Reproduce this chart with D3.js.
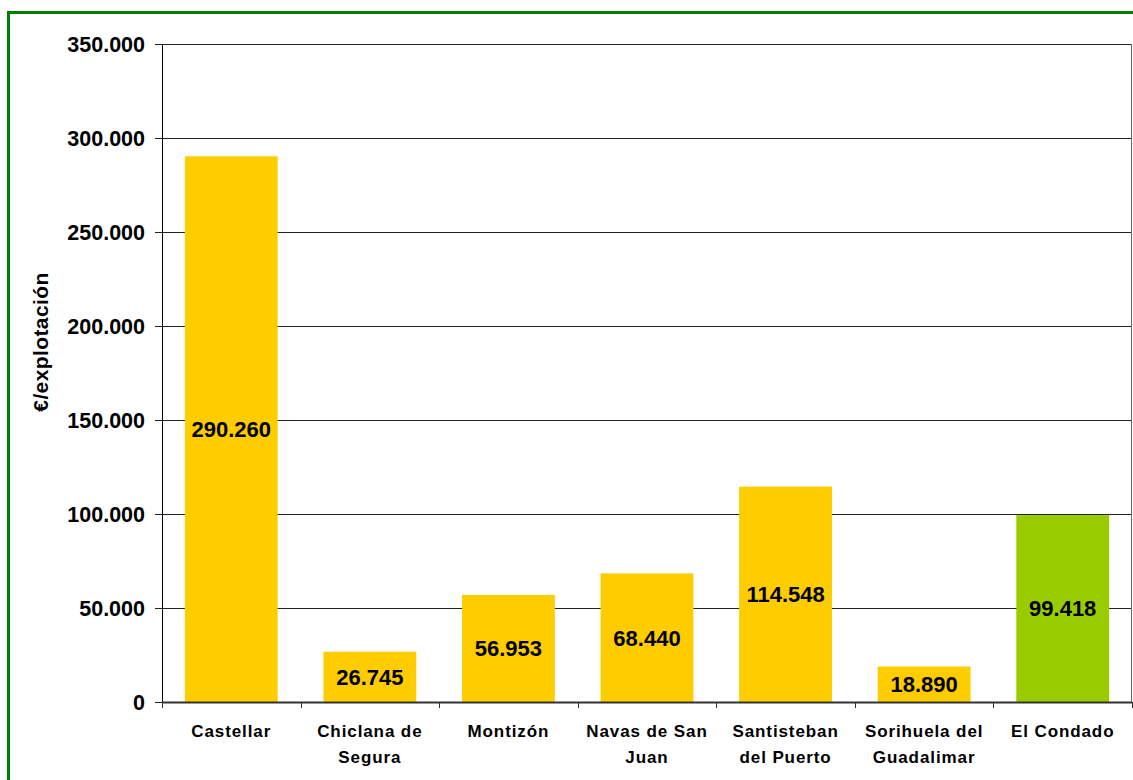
<!DOCTYPE html>
<html>
<head>
<meta charset="utf-8">
<script src="https://cdn.jsdelivr.net/npm/d3@7"></script>
<style>
body{margin:0;background:#fff;}
svg{display:block;}
text{font-family:Arial,"Liberation Sans",sans-serif;font-weight:bold;fill:#000;}
</style>
</head>
<body>
<svg width="1133" height="780"></svg>
<script>
var municipios = [["Castellar"],["Chiclana de","Segura"],["Montizón"],["Navas de San","Juan"],["Santisteban","del Puerto"],["Sorihuela del","Guadalimar"],["El Condado"]];
var valores = [290260, 26745, 56953, 68440, 114548, 18890, 99418];
var colores = ["#FFCC00","#FFCC00","#FFCC00","#FFCC00","#FFCC00","#FFCC00","#99CC00"];
var ticksY = [0, 50000, 100000, 150000, 200000, 250000, 300000, 350000];

var svg = d3.select('svg');
var pLeft = 162, pRight = 1132, pTop = 44, pBottom = 702;

var fmt = function(v){ return d3.format(",")(v).replace(/,/g,'.'); };

// marco verde
svg.append('rect').attr('x',8.5).attr('y',12.5).attr('width',1140).attr('height',800)
   .attr('fill','none').attr('stroke','#008000').attr('stroke-width',3);

var idx = d3.range(valores.length);
var x = d3.scaleBand().domain(idx).range([pLeft,pRight]).paddingInner(0.33).paddingOuter(0.165);
var y = d3.scaleLinear().domain([0,350000]).range([pBottom,pTop]);

// rejilla
svg.selectAll('.grid').data(ticksY).enter().append('line')
   .attr('x1',155).attr('x2',pRight).attr('y1',function(d){return Math.round(y(d))+0.5;}).attr('y2',function(d){return Math.round(y(d))+0.5;})
   .attr('stroke','#222').attr('stroke-width',1);

svg.append('line').attr('x1',pRight-0.5).attr('x2',pRight-0.5).attr('y1',pTop).attr('y2',pBottom).attr('stroke','#666');

// barras
svg.selectAll('.bar').data(idx).enter().append('rect')
   .attr('x',function(i){return x(i);}).attr('width',x.bandwidth())
   .attr('y',function(i){return y(valores[i]);}).attr('height',function(i){return pBottom-y(valores[i]);})
   .attr('fill',function(i){return colores[i];});

// eje y
svg.append('line').attr('x1',pLeft+0.5).attr('x2',pLeft+0.5).attr('y1',pTop).attr('y2',pBottom).attr('stroke','#000');
svg.selectAll('.ylab').data(ticksY).enter().append('text')
   .attr('x',145).attr('y',function(d){return y(d);}).attr('dy','0.36em')
   .attr('text-anchor','end').attr('font-size',21.5).text(function(d){return fmt(d);});

// eje x
svg.append('line').attr('x1',pLeft).attr('x2',pRight).attr('y1',pBottom+0.5).attr('y2',pBottom+0.5).attr('stroke','#333').attr('stroke-width',2);
var step = (pRight-pLeft)/valores.length;
svg.selectAll('.xt').data(d3.range(valores.length+1)).enter().append('line')
   .attr('x1',function(i){return Math.round(pLeft+i*step)+0.5;}).attr('x2',function(i){return Math.round(pLeft+i*step)+0.5;})
   .attr('y1',pBottom).attr('y2',pBottom+6).attr('stroke','#333');

var xl = svg.selectAll('.xlab').data(idx).enter().append('text')
   .attr('text-anchor','middle').attr('font-size',17).attr('letter-spacing',0.9);
xl.each(function(i){
  var t = d3.select(this);
  municipios[i].forEach(function(s,k){
    t.append('tspan').attr('x',x(i)+x.bandwidth()/2).attr('y',737+k*26).text(s);
  });
});

// etiquetas de valor
svg.selectAll('.vlab').data(idx).enter().append('text')
   .attr('x',function(i){return x(i)+x.bandwidth()/2;})
   .attr('y',function(i){return (y(valores[i])+pBottom)/2;}).attr('dy','0.36em')
   .attr('text-anchor','middle').attr('font-size',22).text(function(i){return fmt(valores[i]);});

// titulo eje y
svg.append('text').attr('transform','translate(48,342) rotate(-90)')
   .attr('text-anchor','middle').attr('font-size',21).attr('letter-spacing',0.4).text('€/explotación');
</script>
</body>
</html>
